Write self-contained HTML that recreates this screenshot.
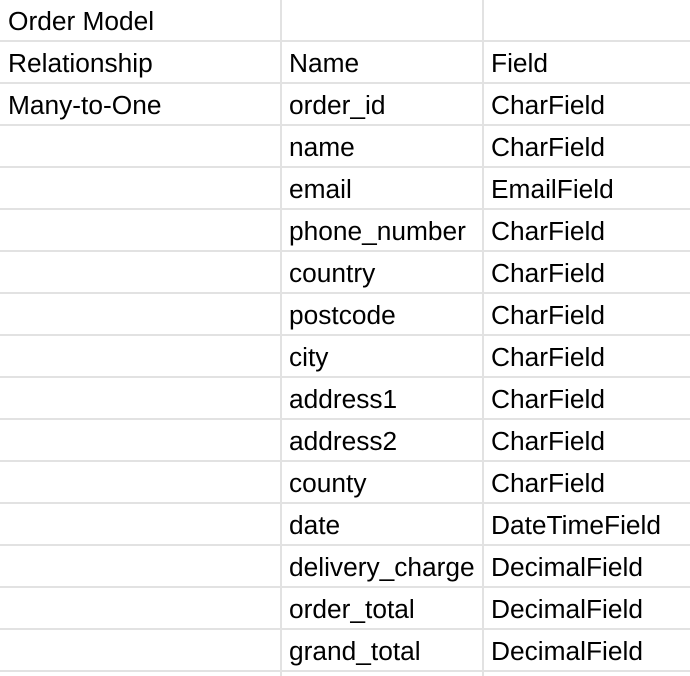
<!DOCTYPE html>
<html><head><style>
body{margin:0;background:#fff;width:690px;height:676px;overflow:hidden;position:relative;font-family:"Liberation Sans",Arial,sans-serif;font-size:26.3px;color:#000}
.h{position:absolute;left:0;width:690px;height:2px;background:#e2e2e2}
.v{position:absolute;top:0;height:676px;width:2px;background:#e2e2e2}
.t{position:absolute;line-height:42px;white-space:nowrap}
</style></head><body>
<div class="v" style="left:280px"></div>
<div class="v" style="left:482px"></div>
<div id="g"></div>
<script>
var rows=[["Order Model","",""],["Relationship","Name","Field"],["Many-to-One","order_id","CharField"],["","name","CharField"],["","email","EmailField"],["","phone_number","CharField"],["","country","CharField"],["","postcode","CharField"],["","city","CharField"],["","address1","CharField"],["","address2","CharField"],["","county","CharField"],["","date","DateTimeField"],["","delivery_charge","DecimalField"],["","order_total","DecimalField"],["","grand_total","DecimalField"]];
var h="",xs=[8,289,491];
rows.forEach(function(r,i){var y=i*42;h+='<div class="h" style="top:'+(y+40)+'px"></div>';r.forEach(function(c,j){if(c)h+='<div class="t" style="left:'+xs[j]+'px;top:'+(y+0)+'px">'+c+'</div>';});});
document.getElementById('g').innerHTML=h;
</script>
</body></html>
